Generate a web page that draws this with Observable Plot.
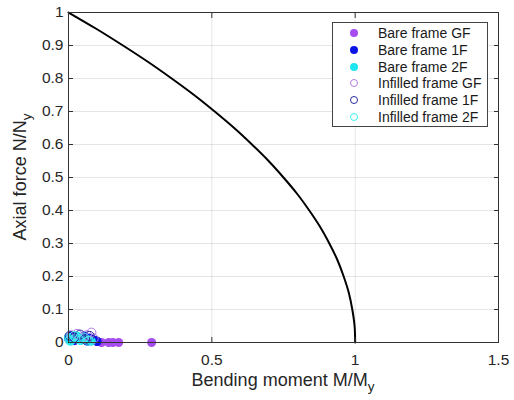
<!DOCTYPE html>
<html>
<head>
<meta charset="utf-8">
<script src="https://cdn.jsdelivr.net/npm/d3@7"></script>
<script src="https://cdn.jsdelivr.net/npm/@observablehq/plot@0.6"></script>
<style>
  body { margin: 0; background: #fff; font-family: "Liberation Sans", Arial, sans-serif; }
  #wrap { position: relative; width: 514px; height: 400px; }
  #legend {
    position: absolute; left: 332px; top: 22px; width: 156px; height: 105px;
    box-sizing: border-box; border: 1px solid #444; background: #fff;
    font-size: 14px; color: #1a1a1a; padding-top: 2px;
  }
  .row { display: flex; align-items: center; height: 16.7px; }
  .row svg { margin-left: 16px; margin-right: 19px; }
</style>
</head>
<body>
<div id="wrap"><div id="legend"></div></div>
<script>
// Interaction curve (bending moment vs axial force, normalised)
const curveM = [0, 0.098, 0.19, 0.278, 0.36, 0.438, 0.51, 0.578, 0.64, 0.698, 0.75, 0.798, 0.84, 0.878, 0.91, 0.938, 0.96, 0.978, 0.99, 0.998, 1.0];
const curveN = [1, 0.95, 0.90, 0.85, 0.80, 0.75, 0.70, 0.65, 0.60, 0.55, 0.50, 0.45, 0.40, 0.35, 0.30, 0.25, 0.20, 0.15, 0.10, 0.05, 0];

// Response points per storey
const bareGF_M = [0.005, 0.02, 0.04, 0.07, 0.10, 0.115, 0.14, 0.155, 0.175, 0.29];
const bareGF_N = [0.010, 0.005, 0.008, 0.004, 0.003, 0, 0, 0, 0, 0];
const bare1F_M = [0.0, 0.01, 0.02, 0.03, 0.045, 0.055, 0.065, 0.075, 0.085, 0.095, 0.10];
const bare1F_N = [0.012, 0.02, 0.006, 0.016, 0.01, 0.02, 0.004, 0.014, 0.008, 0.006, 0.003];
const bare2F_M = [0.0, 0.008, 0.018, 0.03, 0.042, 0.055, 0.068, 0.08];
const bare2F_N = [0.015, 0.004, 0.012, 0.02, 0.006, 0.012, 0.008, 0.004];
const infGF_M = [0.01, 0.03, 0.05, 0.065, 0.08, 0.088];
const infGF_N = [0.022, 0.026, 0.016, 0.022, 0.03, 0.012];
const inf1F_M = [0.004, 0.02, 0.04, 0.058, 0.074];
const inf1F_N = [0.02, 0.015, 0.024, 0.01, 0.02];
const inf2F_M = [0.004, 0.02, 0.036, 0.054, 0.07];
const inf2F_N = [0.006, 0.02, 0.01, 0.015, 0.005];

const seriesNames = ["Bare frame GF", "Bare frame 1F", "Bare frame 2F", "Infilled frame GF", "Infilled frame 1F", "Infilled frame 2F"];
const seriesColors = ["#a64cf0", "#0a14e6", "#1ee6f0", "#b27ae0", "#2a2aa0", "#40f0f0"];
const seriesFilled = [true, true, true, false, false, false];
const seriesM = [bareGF_M, bare1F_M, bare2F_M, infGF_M, inf1F_M, inf2F_M];
const seriesN = [bareGF_N, bare1F_N, bare2F_N, infGF_N, inf1F_N, inf2F_N];

const xTicks = [0, 0.5, 1, 1.5];
const yTicks = [0, 0.1, 0.2, 0.3, 0.4, 0.5, 0.6, 0.7, 0.8, 0.9, 1];

const curve = curveM.map((m, i) => ({M: m, N: curveN[i]}));
const pointMarks = seriesNames.map((name, s) => {
  const rows = seriesM[s].map((m, i) => ({M: m, N: seriesN[s][i]}));
  return Plot.dot(rows, {
    x: "M", y: "N", r: 4.5,
    fill: seriesFilled[s] ? seriesColors[s] : "none",
    stroke: seriesColors[s], strokeWidth: seriesFilled[s] ? 0 : 1
  });
});

const fmt = d => String(+(+d).toFixed(1));
const axisColor = "#333";

const svg = Plot.plot({
  width: 514, height: 400,
  marginLeft: 68, marginRight: 16, marginTop: 12, marginBottom: 58,
  style: {fontFamily: "Liberation Sans, Arial, sans-serif", fontSize: "15.5px", color: "#262626", background: "#fff"},
  x: {domain: [0, 1.5]},
  y: {domain: [0, 1]},
  marks: [
    Plot.gridX({ticks: [0.5, 1], stroke: "#000", strokeOpacity: 0.1}),
    Plot.gridY({ticks: yTicks.slice(1, -1), stroke: "#000", strokeOpacity: 0.1}),
    Plot.line(curve, {x: "M", y: "N", curve: "natural", stroke: "#000", strokeWidth: 2}),
    ...pointMarks,
    Plot.frame({stroke: axisColor, strokeWidth: 1}),
    Plot.axisX({ticks: xTicks, tickSize: -5, tickPadding: 16, tickFormat: fmt, label: null, stroke: axisColor, fontSize: 15.5}),
    Plot.axisX({anchor: "top", ticks: xTicks, tickSize: -5, tickFormat: () => "", label: null, stroke: axisColor}),
    Plot.axisY({ticks: yTicks, tickSize: -5, tickPadding: 10, tickFormat: fmt, label: null, stroke: axisColor, fontSize: 15.5}),
    Plot.axisY({anchor: "right", ticks: yTicks, tickSize: -5, tickFormat: () => "", label: null, stroke: axisColor})
  ]
});

// Axis titles with subscripts
const root = d3.select(svg);
const xt = root.append("text")
  .attr("x", 283).attr("y", 386).attr("text-anchor", "middle")
  .attr("font-size", 18).attr("fill", "#262626");
xt.append("tspan").text("Bending moment M/M");
xt.append("tspan").attr("dy", 5).attr("font-size", 13.5).text("y");

const yt = root.append("text")
  .attr("transform", "translate(26,177) rotate(-90)").attr("text-anchor", "middle")
  .attr("font-size", 18).attr("fill", "#262626");
yt.append("tspan").text("Axial force N/N");
yt.append("tspan").attr("dy", 5).attr("font-size", 13.5).text("y");

document.getElementById("wrap").prepend(svg);
svg.style.position = "absolute";
svg.style.left = "0"; svg.style.top = "0";

// Legend
const legend = d3.select("#legend");
seriesNames.forEach((name, s) => {
  const row = legend.append("div").attr("class", "row");
  const sw = row.append("svg").attr("width", 10).attr("height", 10);
  sw.append("circle").attr("cx", 5).attr("cy", 5).attr("r", seriesFilled[s] ? 4 : 3.5)
    .attr("fill", seriesFilled[s] ? seriesColors[s] : "none")
    .attr("stroke", seriesColors[s]).attr("stroke-width", seriesFilled[s] ? 0 : 1);
  row.append("span").text(name);
});
</script>
</body>
</html>
